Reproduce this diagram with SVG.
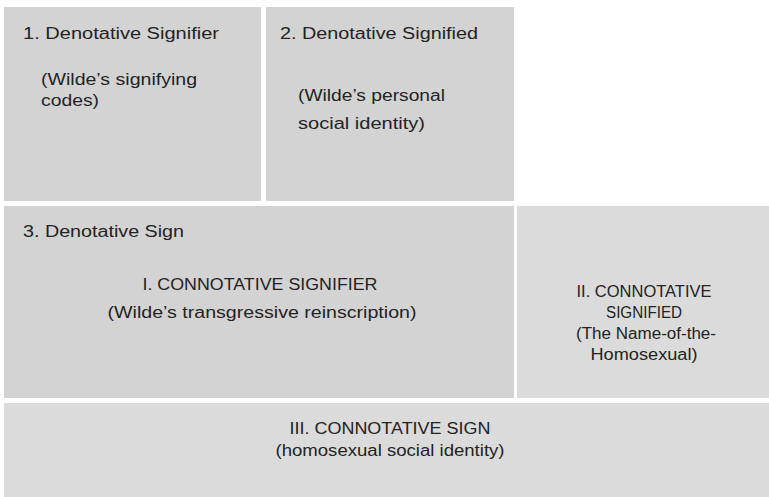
<svg xmlns="http://www.w3.org/2000/svg" width="769" height="497" viewBox="0 0 769 497">
<style>
.bg{fill:#ffffff}
.boxA{fill:#d3d3d3}
.boxB{fill:#dbdbdb}
text{font-family:"Liberation Sans",Arial,sans-serif;font-size:16px;fill:#232323}
.c{text-anchor:middle}
</style>
<rect class="bg" x="0" y="0" width="769" height="497"/>
<g id="node-denotative-signifier">
<rect class="boxA" x="4" y="7" width="257" height="194"/>
<text x="23" y="39" textLength="196" lengthAdjust="spacingAndGlyphs">1. Denotative Signifier</text>
<text x="41" y="85" textLength="156" lengthAdjust="spacingAndGlyphs">(Wilde’s signifying</text>
<text x="41" y="106" textLength="58" lengthAdjust="spacingAndGlyphs">codes)</text>
</g>
<g id="node-denotative-signified">
<rect class="boxA" x="266" y="7" width="248" height="194"/>
<text x="280" y="39" textLength="198" lengthAdjust="spacingAndGlyphs">2. Denotative Signified</text>
<text x="298" y="101" textLength="147" lengthAdjust="spacingAndGlyphs">(Wilde’s personal</text>
<text x="298" y="129" textLength="127" lengthAdjust="spacingAndGlyphs">social identity)</text>
</g>
<g id="node-denotative-sign">
<rect class="boxA" x="4" y="206" width="510" height="192"/>
<text x="23" y="237" textLength="161" lengthAdjust="spacingAndGlyphs">3. Denotative Sign</text>
<text class="c" x="260" y="290" textLength="235" lengthAdjust="spacingAndGlyphs">I. CONNOTATIVE SIGNIFIER</text>
<text class="c" x="262" y="318" textLength="309" lengthAdjust="spacingAndGlyphs">(Wilde’s transgressive reinscription)</text>
</g>
<g id="node-connotative-signified">
<rect class="boxB" x="517" y="206" width="252" height="192"/>
<text class="c" x="644" y="297" textLength="135" lengthAdjust="spacingAndGlyphs">II. CONNOTATIVE</text>
<text class="c" x="644" y="318" textLength="76" lengthAdjust="spacingAndGlyphs">SIGNIFIED</text>
<text class="c" x="646" y="339" textLength="140" lengthAdjust="spacingAndGlyphs">(The Name-of-the-</text>
<text class="c" x="644" y="360" textLength="107" lengthAdjust="spacingAndGlyphs">Homosexual)</text>
</g>
<g id="node-connotative-sign">
<rect class="boxB" x="4" y="403" width="765" height="94"/>
<text class="c" x="390" y="434" textLength="201" lengthAdjust="spacingAndGlyphs">III. CONNOTATIVE SIGN</text>
<text class="c" x="390" y="456" textLength="229" lengthAdjust="spacingAndGlyphs">(homosexual social identity)</text>
</g>
<g id="connectors"></g>
</svg>
